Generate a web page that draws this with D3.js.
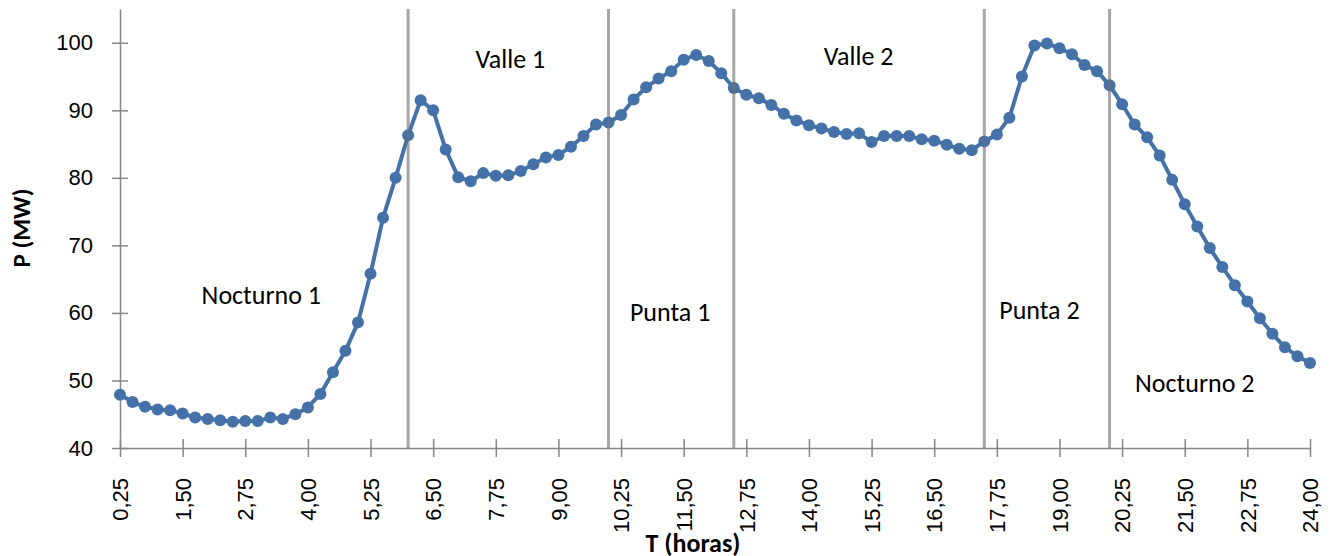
<!DOCTYPE html>
<html>
<head>
<meta charset="utf-8">
<script src="https://cdn.jsdelivr.net/npm/d3@7"></script>
<style>
  body { margin: 0; background: #fff; }
  svg { display: block; font-family: Calibri, Carlito, Lato, sans-serif; }
</style>
</head>
<body>
<svg id="chart" width="1333" height="556"></svg>
<script>
// load values (MW) every quarter hour, 0,25 .. 24,00
const hours = d3.range(1, 97).map(i => i * 0.25)
const power = [
  47.9, 46.8, 46.1, 45.7, 45.6, 45.1, 44.5, 44.3, 44.1, 43.9,
  44.0, 44.0, 44.5, 44.3, 45.0, 46.0, 48.0, 51.2, 54.4, 58.6,
  65.8, 74.1, 80.0, 86.3, 91.5, 90.0, 84.2, 80.1, 79.5, 80.7,
  80.3, 80.4, 81.0, 82.0, 83.0, 83.4, 84.6, 86.2, 87.9, 88.2,
  89.3, 91.6, 93.4, 94.7, 95.8, 97.5, 98.2, 97.3, 95.5, 93.3,
  92.3, 91.8, 90.8, 89.5, 88.5, 87.8, 87.3, 86.8, 86.5, 86.6,
  85.3, 86.2, 86.2, 86.2, 85.7, 85.5, 84.9, 84.3, 84.1, 85.4,
  86.4, 88.9, 95.0, 99.6, 99.9, 99.2, 98.3, 96.7, 95.8, 93.7,
  90.9, 87.9, 86.0, 83.3, 79.7, 76.1, 72.8, 69.6, 66.8, 64.1,
  61.7, 59.2, 56.9, 54.9, 53.6, 52.6
]
const xTicks = d3.range(0, 20).map(i => 0.25 + i * 1.25)
const yTicks = [40, 50, 60, 70, 80, 90, 100]
const dividers = [6, 10, 12.5, 17.5, 20]
const periods = [
  { name: "Nocturno 1", t: 3.07, p: 62.6 },
  { name: "Valle 1", t: 8.04, p: 97.6 },
  { name: "Punta 1", t: 11.23, p: 60.1 },
  { name: "Valle 2", t: 14.99, p: 98.0 },
  { name: "Punta 2", t: 18.6, p: 60.5 },
  { name: "Nocturno 2", t: 21.7, p: 49.6 }
]

const data = hours.map((t, i) => ({ t: t, p: power[i] }))

const margin = { top: 9, right: 23, bottom: 108, left: 120 }
const svg = d3.select("#chart")
const width = +svg.attr("width") - margin.left - margin.right
const height = +svg.attr("height") - margin.top - margin.bottom
const g = svg.append("g").attr("transform", `translate(${margin.left},${margin.top})`)

const axisColor = "#868686"
const blue = "#4472a8"
const fmt = v => d3.format(".2f")(v).replace(".", ",")

var x = d3.scaleLinear().domain([0.25, 24]).range([0, width])
var y = d3.scaleLinear().domain([40, 105]).range([height, 0])

// Y axis (cross ticks)
const yAxis = g.append("g")
  .call(d3.axisLeft(y).tickValues(yTicks).tickSize(8).tickSizeOuter(0).tickPadding(19))
yAxis.select(".domain").attr("stroke", axisColor).attr("stroke-width", 1.5)
yAxis.selectAll(".tick line").attr("x1", 8).attr("stroke", axisColor).attr("stroke-width", 1.5)
yAxis.selectAll(".tick text")
  .attr("fill", "#000")
  .style("font-size", "22px")

// X axis (cross ticks, rotated labels)
const xAxis = g.append("g")
  .attr("transform", `translate(0,${height})`)
  .call(d3.axisBottom(x).tickValues(xTicks).tickFormat(fmt).tickSize(9).tickSizeOuter(0))
xAxis.select(".domain").attr("stroke", axisColor).attr("stroke-width", 1.5)
xAxis.selectAll(".tick line").attr("y1", -9).attr("stroke", axisColor).attr("stroke-width", 1.5)
xAxis.selectAll(".tick text")
  .attr("fill", "#000")
  .style("font-size", "22px")
  .attr("text-anchor", "end")
  .attr("transform", "rotate(-90)")
  .attr("x", -30)
  .attr("y", 0)
  .attr("dy", "0.35em")

// axis titles
svg.append("text")
  .attr("transform", `translate(30,228) rotate(-90)`)
  .attr("text-anchor", "middle")
  .style("font-size", "25px")
  .style("font-weight", "bold")
  .text("P (MW)")

svg.append("text")
  .attr("x", 693)
  .attr("y", 552)
  .attr("text-anchor", "middle")
  .style("font-size", "26px")
  .style("font-weight", "bold")
  .text("T (horas)")

// the load curve
const line = d3.line().x(d => x(d.t)).y(d => y(d.p))
g.append("path")
  .datum(data)
  .attr("fill", "none")
  .attr("stroke", blue)
  .attr("stroke-width", 4)
  .attr("stroke-linejoin", "round")
  .attr("d", line)

g.selectAll("circle.pt")
  .data(data)
  .enter()
  .append("circle")
  .attr("class", "pt")
  .attr("cx", d => x(d.t))
  .attr("cy", d => y(d.p))
  .attr("r", 6)
  .attr("fill", blue)

// period dividers
g.selectAll("line.div")
  .data(dividers)
  .enter()
  .append("line")
  .attr("class", "div")
  .attr("x1", d => x(d)).attr("x2", d => x(d))
  .attr("y1", y(105)).attr("y2", y(40))
  .attr("stroke", "#6f6f6f")
  .attr("stroke-opacity", 0.62)
  .attr("stroke-width", 3)

// period names
g.selectAll("text.period")
  .data(periods)
  .enter()
  .append("text")
  .attr("class", "period")
  .attr("x", d => x(d.t))
  .attr("y", d => y(d.p))
  .attr("dy", "0.35em")
  .attr("text-anchor", "middle")
  .style("font-size", "26px")
  .text(d => d.name)
</script>
</body>
</html>
